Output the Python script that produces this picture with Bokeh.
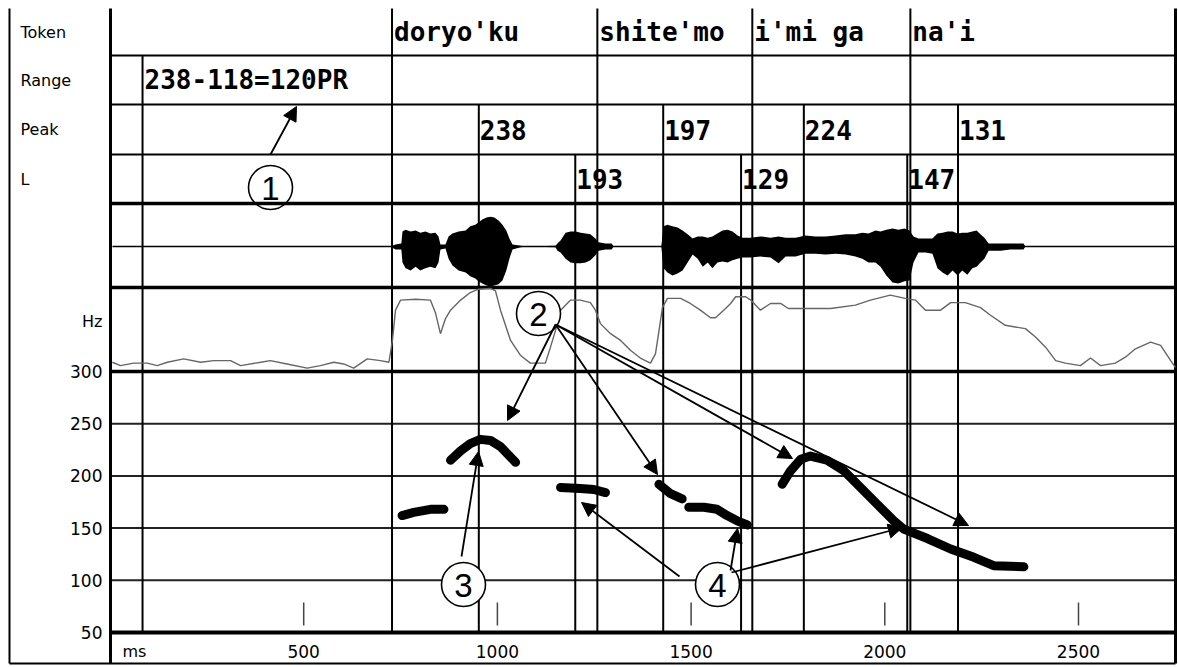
from bokeh.plotting import figure
from bokeh.models import Range1d, Arrow, NormalHead
from bokeh.core.properties import value
from bokeh.embed import file_html
from bokeh.resources import INLINE

# ---------------- data ----------------
row_labels = ["Token", "Range", "Peak", "L"]
tokens = ["doryo'ku", "shite'mo", "i'mi ga", "na'i"]
token_start_ms = [728, 1258, 1658, 2066]
range_start_ms = 84
range_text = "238-118=120PR"
peak_ms = [952, 1428, 1791, 2189]
peak_hz = [238, 197, 224, 131]
low_ms = [1201, 1629, 2058]
low_hz = [193, 129, 147]
hz_ticks = [300, 250, 200, 150, 100, 50]
ms_ticks = [500, 1000, 1500, 2000, 2500]

# F0 contour (thick), separate voiced stretches
f0_seg1_ms = [754, 784, 827, 862]
f0_seg1_hz = [162, 165, 168, 168]
f0_seg2_ms = [879, 905, 930, 956, 982, 1008, 1029, 1047]
f0_seg2_hz = [215, 224, 231, 235, 234, 228, 220, 213]
f0_seg3_ms = [1163, 1214, 1249, 1279]
f0_seg3_hz = [189, 188, 187, 184]
f0_seg4_ms = [1417, 1447, 1477]
f0_seg4_hz = [192, 183, 178]
f0_seg5_ms = [1494, 1533, 1567, 1593, 1619, 1645]
f0_seg5_hz = [170, 170, 168, 162, 157, 153]
f0_seg6_ms = [1735, 1757, 1783, 1808, 1851, 1894, 1937, 1980, 2023, 2049, 2110, 2170, 2230, 2281, 2359]
f0_seg6_hz = [192, 205, 216, 219, 215, 205, 189, 173, 157, 149, 140, 130, 122, 114, 113]

# intensity contour (percent of its panel height)
int_ms = [6, 27, 61, 96, 122, 148, 190, 234, 268, 311, 337, 389, 414, 457, 509, 543, 578, 603, 629, 664,
          698, 720, 729, 737, 750, 789, 827, 840, 853, 866, 879, 905, 930, 951, 982, 995, 1008, 1034, 1060,
          1085, 1124, 1137, 1150, 1163, 1189, 1214, 1240, 1253, 1266, 1292, 1318, 1344, 1369, 1395, 1408,
          1416, 1426, 1439, 1473, 1498, 1524, 1550, 1563, 1589, 1602, 1615, 1641, 1654, 1679, 1705, 1731,
          1751, 1782, 1860, 1924, 1963, 2014, 2053, 2079, 2105, 2144, 2170, 2208, 2247, 2273, 2311, 2363,
          2389, 2415, 2441, 2466, 2505, 2531, 2557, 2595, 2621, 2647, 2686, 2712, 2738, 2750]
int_lvl = [11, 7, 10, 10, 7, 11, 15, 11, 13, 13, 7, 11, 13, 9, 4, 7, 11, 9, 4, 15,
           13, 11, 37, 73, 85, 86, 85, 70, 45, 63, 73, 85, 94, 98, 99, 96, 73, 37, 19,
           10, 10, 29, 49, 73, 85, 85, 82, 73, 57, 45, 37, 25, 16, 10, 21,
           45, 76, 87, 87, 81, 73, 64, 64, 75, 81, 89, 89, 85, 73, 81, 81,
           75, 75, 75, 79, 85, 91, 87, 85, 73, 73, 82, 82, 76, 67, 55, 51,
           41, 29, 13, 10, 7, 16, 7, 10, 17, 27, 35, 31, 13, 5]

# waveform envelope (percent of half panel height)
wave_ms = [724, 737, 752, 755, 763, 776, 789, 801, 814, 827, 840, 848, 853, 866, 874, 884, 900, 918, 930,
           943, 951, 961, 972, 982, 992, 1003, 1013, 1023, 1031, 1039, 1060, 1073, 1150, 1155, 1163, 1176,
           1189, 1202, 1215, 1228, 1240, 1253, 1261, 1279, 1295, 1300, 1423, 1429, 1439, 1452, 1465, 1478,
           1491, 1504, 1517, 1530, 1543, 1555, 1568, 1581, 1594, 1607, 1620, 1633, 1653, 1679, 1705, 1726,
           1744, 1770, 1795, 1821, 1847, 1873, 1899, 1924, 1942, 1958, 1976, 1989, 2004, 2020, 2035, 2051,
           2064, 2074, 2087, 2105, 2123, 2136, 2149, 2162, 2175, 2188, 2200, 2213, 2226, 2237, 2247, 2257,
           2268, 2299, 2324, 2358, 2363]
wave_top = [0, 5, 7, 36, 40, 36, 38, 33, 36, 31, 33, 24, 5, 5, 24, 31, 36, 38, 48,
            52, 57, 64, 69, 71, 69, 62, 52, 38, 19, 5, 2, 0, 2, 7, 14, 33,
            36, 36, 33, 31, 29, 19, 10, 7, 7, 0, 0, 48, 52, 48, 45, 38,
            29, 19, 24, 24, 21, 24, 31, 38, 40, 36, 26, 21, 21, 24, 21, 24,
            21, 21, 26, 24, 24, 26, 29, 29, 33, 31, 38, 36, 40, 43, 40, 43,
            38, 24, 19, 19, 19, 31, 33, 36, 36, 31, 33, 33, 36, 38, 29, 21,
            7, 7, 7, 7, 0]
wave_bot = [0, -7, -7, -38, -52, -57, -48, -57, -52, -48, -52, -38, -7, -5, -29, -45, -57, -62, -71,
            -76, -83, -88, -93, -95, -93, -90, -81, -57, -29, -7, -2, 0, -2, -10, -14, -29,
            -38, -40, -40, -38, -33, -21, -10, -7, -7, 0, 0, -52, -62, -69, -64, -57,
            -38, -19, -29, -48, -38, -52, -38, -36, -38, -33, -29, -26, -26, -24, -26, -40,
            -24, -24, -17, -17, -19, -17, -19, -24, -29, -38, -38, -48, -69, -86, -88, -83,
            -81, -38, -14, -14, -17, -52, -62, -69, -57, -69, -57, -67, -52, -48, -38, -29,
            -10, -10, -7, -7, 0]

# ---------------- layout (pixel geometry of the page) ----------------
W, H = 1178, 667
X0_PX, PX_PER_MS = 109.5, 0.3874      # 0 ms position, scale
HZ300_PY, PX_PER_HZ = 371.0, 1.044    # 300 Hz line, scale


def X(px):
    return (px - X0_PX) / PX_PER_MS


def Y(py):
    return 300 + (HZ300_PY - py) / PX_PER_HZ


def dy(px):
    return px / PX_PER_HZ


def dx(px):
    return px / PX_PER_MS


TOP, R1, R2, R3, WAV, INT, PIT, AXB, BOT = 8, 55, 104, 154, 203, 287, 371, 632, 663
LEFT_OUT, DIV, RIGHT = 9, 110, 1175
WAVE_MID, WAVE_HALF = 246, 42

p = figure(width=W, height=H, x_range=Range1d(X(0), X(W)), y_range=Range1d(Y(H), Y(0)),
           output_backend="svg", toolbar_location=None, x_axis_type=None, y_axis_type=None,
           min_border=0, outline_line_color=None, title=None, background_fill_color="white")
p.grid.visible = False

INK = "black"

# circle 1 lies under the row line
c_px = [(270, 187), (538, 313), (463, 584), (717, 584)]
p.scatter(x=[X(c_px[0][0])], y=[Y(c_px[0][1])], size=44, marker="circle",
          fill_color="white", line_color=INK, line_width=1.6)

# pitch grid lines
p.segment(x0=[X(DIV)] * 4, x1=[X(RIGHT)] * 4, y0=hz_ticks[1:5], y1=hz_ticks[1:5],
          line_color="#222222", line_width=2)

# ms ticks inside the pitch panel
p.segment(x0=ms_ticks, x1=ms_ticks, y0=[Y(602)] * len(ms_ticks), y1=[Y(625)] * len(ms_ticks),
          line_color="#444444", line_width=1.5)

# thin row lines
p.segment(x0=[X(DIV)] * 3, x1=[X(RIGHT)] * 3, y0=[Y(R1), Y(R2), Y(R3)], y1=[Y(R1), Y(R2), Y(R3)],
          line_color=INK, line_width=2)
# thick panel lines
p.segment(x0=[X(DIV)] * 3, x1=[X(RIGHT)] * 3, y0=[Y(WAV), Y(INT), 300], y1=[Y(WAV), Y(INT), 300],
          line_color=INK, line_width=3.5)
p.segment(x0=[X(DIV)], x1=[X(RIGHT)], y0=[50], y1=[50], line_color=INK, line_width=4)
# outer frame
p.segment(x0=[X(LEFT_OUT), X(DIV), X(RIGHT)], x1=[X(LEFT_OUT), X(DIV), X(RIGHT)],
          y0=[Y(TOP)] * 3, y1=[Y(BOT)] * 3, line_color=INK, line_width=[2, 3, 3])
p.segment(x0=[X(LEFT_OUT)], x1=[X(RIGHT)], y0=[Y(BOT)], y1=[Y(BOT)], line_color=INK, line_width=2)

# boundary lines
p.segment(x0=[range_start_ms], x1=[range_start_ms], y0=[Y(R1)], y1=[50], line_color=INK, line_width=2)
p.segment(x0=token_start_ms, x1=token_start_ms, y0=[Y(TOP)] * 4, y1=[50] * 4, line_color=INK, line_width=2)
p.segment(x0=peak_ms, x1=peak_ms, y0=[Y(R2)] * 4, y1=[50] * 4, line_color=INK, line_width=2)
p.segment(x0=low_ms, x1=low_ms, y0=[Y(R3)] * 3, y1=[50] * 3, line_color=INK, line_width=2)

# waveform
mid = Y(WAVE_MID)
p.segment(x0=[X(DIV + 2)], x1=[X(RIGHT)], y0=[mid], y1=[mid], line_color=INK, line_width=1.5)
p.varea(x=wave_ms, y1=[mid + dy(WAVE_HALF) * v / 100 for v in wave_top],
        y2=[mid + dy(WAVE_HALF) * v / 100 for v in wave_bot], fill_color=INK)

# intensity contour
p.line(x=int_ms, y=[300 + dy(INT_H) * v / 100 for v, INT_H in zip(int_lvl, [PIT - INT] * len(int_lvl))],
       line_color="#666666", line_width=1.4)

# F0 contour
for xs, ys in [(f0_seg1_ms, f0_seg1_hz), (f0_seg2_ms, f0_seg2_hz), (f0_seg3_ms, f0_seg3_hz),
               (f0_seg4_ms, f0_seg4_hz), (f0_seg5_ms, f0_seg5_hz), (f0_seg6_ms, f0_seg6_hz)]:
    p.line(x=xs, y=ys, line_color=INK, line_width=9, line_cap="round", line_join="round")

# ---- texts ----
mono = value("DejaVu Sans Mono")
sans = value("DejaVu Sans")
row_mid = [Y((TOP + R1) / 2), Y((R1 + R2) / 2), Y((R2 + R3) / 2), Y((R3 + WAV) / 2)]

p.text(x=[X(20)] * 4, y=row_mid, text=row_labels, text_font=sans, text_font_size="16px",
       text_baseline="middle", text_align="left", text_color=INK)
p.text(x=token_start_ms, y=[row_mid[0]] * 4, text=tokens, text_font=mono, text_font_style="bold",
       text_font_size="26px", text_baseline="middle", text_align="left", x_offset=2, text_color=INK)
p.text(x=[range_start_ms], y=[row_mid[1]], text=[range_text], text_font=mono, text_font_style="bold",
       text_font_size="26px", text_baseline="middle", text_align="left", x_offset=2, text_color=INK)
p.text(x=peak_ms, y=[row_mid[2]] * 4, text=[str(v) for v in peak_hz], text_font=mono,
       text_font_style="bold", text_font_size="26px", text_baseline="middle", text_align="left",
       x_offset=1, text_color=INK)
p.text(x=low_ms, y=[row_mid[3]] * 3, text=[str(v) for v in low_hz], text_font=mono,
       text_font_style="bold", text_font_size="26px", text_baseline="middle", text_align="left",
       x_offset=1, text_color=INK)

p.text(x=[X(102)] * len(hz_ticks), y=hz_ticks, text=[str(v) for v in hz_ticks], text_font=sans,
       text_font_size="17px", text_baseline="middle", text_align="right", text_color=INK)
p.text(x=[X(102)], y=[Y(321)], text=["Hz"], text_font=sans, text_font_size="16px",
       text_baseline="middle", text_align="right", text_color=INK)
p.text(x=ms_ticks, y=[Y(651)] * len(ms_ticks), text=[str(v) for v in ms_ticks], text_font=sans,
       text_font_size="17px", text_baseline="middle", text_align="center", text_color=INK)
p.text(x=[X(122)], y=[Y(651)], text=["ms"], text_font=sans, text_font_size="16px",
       text_baseline="middle", text_align="left", text_color=INK)

# ---- callout circles and arrows ----
p.scatter(x=[X(c[0]) for c in c_px[1:]], y=[Y(c[1]) for c in c_px[1:]], size=44, marker="circle",
          fill_color="white", line_color=INK, line_width=1.6)
p.text(x=[X(c[0]) for c in c_px], y=[Y(c[1]) for c in c_px], text=["1", "2", "3", "4"],
       text_font=value("Liberation Sans"), text_font_size="33px", text_baseline="middle",
       text_align="center", y_offset=1, text_color=INK)

arrows_px = [
    ((270, 154), (296, 106)),
    ((555, 324), (507, 420)),
    ((555, 324), (657, 474)),
    ((555, 324), (792, 458)),
    ((555, 324), (968, 525)),
    ((461, 556), (478, 451)),
    ((679, 576), (581, 502)),
    ((730, 570), (737, 528)),
    ((731, 572), (902, 527)),
]
for (sx, sy), (ex, ey) in arrows_px:
    p.add_layout(Arrow(end=NormalHead(size=14, fill_color=INK, line_color=INK, line_width=1),
                       x_start=X(sx), y_start=Y(sy), x_end=X(ex), y_end=Y(ey),
                       line_color=INK, line_width=1.8))

open("out.html", "w").write(file_html(p, INLINE))
